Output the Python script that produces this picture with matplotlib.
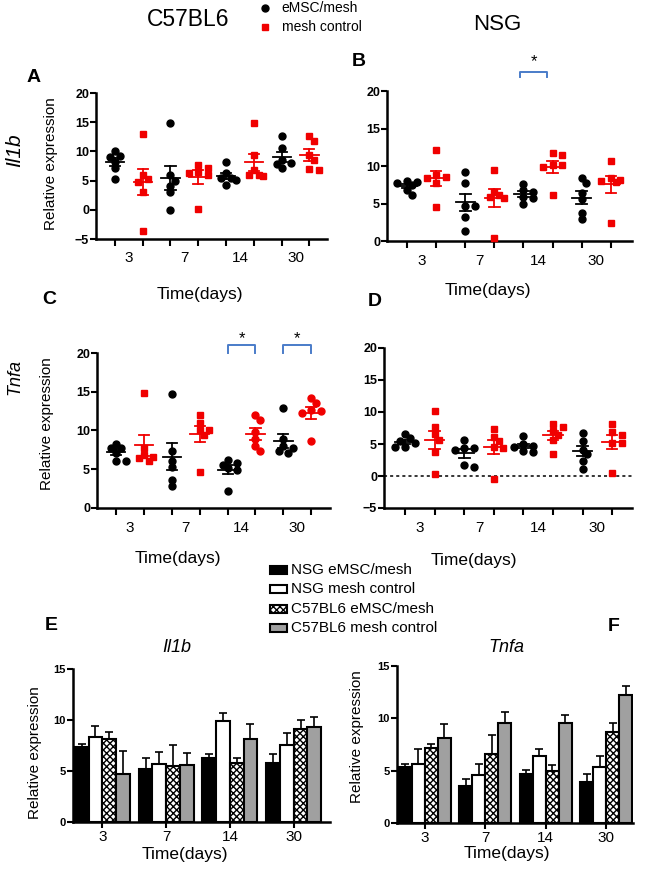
import numpy as np
import matplotlib.pyplot as plt
from matplotlib.patches import Rectangle
from matplotlib.lines import Line2D

plt.rcParams['font.family'] = ['Liberation Sans', 'DejaVu Sans']

W, H = 660, 871
RED = '#f00000'
GRAY = '#a0a0a0'

days = ['3', '7', '14', '30']

# values per day (3, 7, 14, 30), six animals each
c57_il1b_emsc = [[10.1, 9.2, 9.1, 8.2, 7.1, 5.2], [14.9, 6.0, 5.0, 4.1, 3.0, 0.0],
                 [8.1, 6.3, 5.5, 5.4, 5.1, 4.2], [12.7, 10.5, 8.5, 8.0, 7.8, 7.1]]
c57_il1b_mesh = [[13.0, 6.0, 5.2, 4.8, 3.1, -3.6], [7.7, 7.1, 6.5, 6.3, 5.9, 0.1],
                 [14.9, 9.4, 6.8, 6.0, 5.9, 5.8], [11.8, 12.6, 9.3, 8.6, 6.8, 7.0]]
nsg_il1b_emsc = [[8.0, 7.9, 7.7, 7.5, 6.8, 6.2], [9.2, 7.7, 4.7, 4.7, 3.2, 1.4],
                 [7.6, 6.8, 6.6, 5.9, 5.7, 5.0], [7.8, 8.4, 6.4, 5.6, 3.7, 2.9]]
nsg_il1b_mesh = [[12.2, 8.8, 8.6, 8.4, 7.7, 4.5], [9.5, 6.6, 6.1, 5.9, 5.7, 0.4],
                 [11.5, 11.7, 10.1, 9.9, 10.1, 6.1], [10.7, 8.4, 8.0, 7.9, 8.1, 2.4]]
c57_tnfa_emsc = [[8.3, 7.7, 7.8, 7.1, 6.1, 6.1], [14.7, 7.3, 6.1, 5.3, 3.6, 2.8],
                 [6.2, 5.8, 5.6, 5.1, 4.9, 2.2], [12.9, 8.9, 8.0, 7.7, 7.4, 7.1]]
c57_tnfa_mesh = [[14.9, 7.7, 6.9, 6.6, 6.4, 6.1], [12.0, 11.0, 10.1, 10.1, 9.4, 4.6],
                 [12.0, 11.3, 9.8, 8.9, 8.0, 7.4], [14.2, 13.5, 12.5, 12.2, 12.6, 8.6]]
nsg_tnfa_emsc = [[6.5, 5.9, 5.5, 5.1, 4.6, 4.6], [5.7, 4.3, 4.3, 4.0, 1.4, 1.7],
                 [6.3, 5.0, 4.7, 4.5, 3.9, 3.8], [6.7, 5.5, 4.1, 3.5, 2.4, 1.1]]
nsg_tnfa_mesh = [[10.2, 7.7, 6.5, 5.6, 3.8, 0.3], [7.3, 6.1, 5.4, 4.6, 4.3, -0.4],
                 [8.1, 7.7, 7.1, 6.4, 5.6, 3.4], [8.2, 6.8, 6.4, 5.1, 5.1, 0.4]]

bar_labels = ['NSG eMSC/mesh', 'NSG mesh control', 'C57BL6 eMSC/mesh', 'C57BL6 mesh control']


def box(l, r, t, b):
    return [l / W, 1 - b / H, (r - l) / W, (b - t) / H]


def ftxt(x, y, s, **kw):
    fig.text(x / W, 1 - y / H, s, ha='center', va='center', **kw)


def mean_sem(v):
    v = np.asarray(v)
    return v.mean(), v.std(ddof=1) / np.sqrt(len(v))


def swarm(ax, x0, vals, diam=6.0, step=4.8):
    # spread points sideways so they overlap less (in pixels)
    pxx = ax.transData.transform((1, 0))[0] - ax.transData.transform((0, 0))[0]
    ys = ax.transData.transform(np.column_stack([np.zeros(len(vals)), vals]))[:, 1]
    order = np.argsort(-np.asarray(vals))
    placed = []
    offs = np.zeros(len(vals))
    for k in order:
        best, best_d = 0.0, -1.0
        for c in [0, 1, -1, 2, -2]:
            xo = c * step
            d = min([np.hypot(xo - px, ys[k] - py) for px, py in placed] or [99.0])
            if d >= diam:
                best = xo
                break
            if d > best_d:
                best, best_d = xo, d
        placed.append((best, ys[k]))
        offs[k] = best / pxx
    return x0 + offs


def style(ax, ylabsize=9):
    for s in ['top', 'right']:
        ax.spines[s].set_visible(False)
    for s in ['left', 'bottom']:
        ax.spines[s].set_linewidth(1.8)
    ax.tick_params(axis='y', width=1.5, length=4, labelsize=ylabsize, pad=1)
    for t in ax.get_yticklabels():
        t.set_fontweight('bold')


def dot_panel(ax, emsc, mesh, ylim, yticks, xlim, mesh_mk):
    ax.set_xlim(*xlim)
    ax.set_ylim(*ylim)
    ax.set_yticks(yticks)
    style(ax)
    ax.set_xticks(np.arange(8))
    ax.set_xticklabels([])
    ax.set_xticks(np.arange(4) * 2 + 0.5, days, minor=True)
    ax.tick_params(axis='x', which='major', width=1.5, length=5)
    ax.tick_params(axis='x', which='minor', length=0, labelsize=11, pad=9)
    for i in range(4):
        for j, (vals, col, mk) in enumerate([(emsc[i], 'black', 'o'), (mesh[i], RED, mesh_mk[i])]):
            x0 = 2 * i + j
            xs = swarm(ax, x0, vals)
            ax.plot(xs, vals, ls='none', marker=mk, ms=5, color=col, mec=col, clip_on=False, zorder=3)
            m, se = mean_sem(vals)
            ax.plot([x0 - 0.33, x0 + 0.33], [m, m], color=col, lw=1.3, zorder=4)
            ax.plot([x0, x0], [m - se, m + se], color=col, lw=1.3, zorder=4)
            for yy in (m - se, m + se):
                ax.plot([x0 - 0.18, x0 + 0.18], [yy, yy], color=col, lw=1.3, zorder=4)


def bracket(ax, x1, x2, ylo, yhi, ystar):
    ax.plot([x1, x1, x2, x2], [ylo, yhi, yhi, ylo], color='#4a7cc9', lw=1.4, clip_on=False)
    ax.text((x1 + x2) / 2, ystar, '*', ha='center', va='center', fontsize=12, clip_on=False)


def bar_panel(ax, groups, xlim):
    w = 0.215
    styles = [dict(color='black'), dict(color='white'),
              dict(color='white', hatch='xxxxx'), dict(color=GRAY)]
    ax.set_xlim(*xlim)
    ax.set_ylim(0, 15)
    ax.set_yticks([0, 5, 10, 15])
    style(ax, ylabsize=8)
    for k, (data, st) in enumerate(zip(groups, styles)):
        ms = [mean_sem(v) for v in data]
        x = np.arange(4) + (k - 1.5) * w
        ax.bar(x, [m for m, s in ms], w, edgecolor='black', linewidth=1.5, zorder=2, **st)
        ax.errorbar(x, [m for m, s in ms], yerr=[[0] * 4, [s for m, s in ms]], fmt='none',
                    ecolor='black', elinewidth=1.2, capsize=3, capthick=1.2, zorder=1)
    ax.set_xticks(np.arange(4), days)
    ax.tick_params(axis='x', width=1.5, length=4, labelsize=11, pad=2)


fig = plt.figure(figsize=(W / 100, H / 100), dpi=100)

axA = fig.add_axes(box(96, 327, 93, 239))
axB = fig.add_axes(box(387, 632, 91, 241))
axC = fig.add_axes(box(97, 330, 353, 508))
axD = fig.add_axes(box(384, 632, 348, 508))
axE = fig.add_axes(box(73, 330, 669, 822))
axF = fig.add_axes(box(397, 633, 666, 823))

sq = ['s'] * 4
dot_panel(axA, c57_il1b_emsc, c57_il1b_mesh, (-5, 20), [-5, 0, 5, 10, 15, 20], (-0.68, 7.63), sq)
dot_panel(axB, nsg_il1b_emsc, nsg_il1b_mesh, (0, 20), [0, 5, 10, 15, 20], (-0.69, 7.73), sq)
dot_panel(axC, c57_tnfa_emsc, c57_tnfa_mesh, (0, 20), [0, 5, 10, 15, 20], (-0.68, 7.67), ['s', 's', 'o', 'o'])
dot_panel(axD, nsg_tnfa_emsc, nsg_tnfa_mesh, (-5, 20), [-5, 0, 5, 10, 15, 20], (-0.71, 7.67), sq)
axD.axhline(0, color='black', lw=1.1, ls=(0, (2, 2)), zorder=1)

bracket(axB, 3.88, 4.82, 21.9, 22.5, 23.9)
bracket(axC, 4.0, 5.0, 20.0, 21.0, 21.9)
bracket(axC, 6.0, 7.0, 20.0, 21.0, 21.9)

bar_panel(axE, [nsg_il1b_emsc, nsg_il1b_mesh, c57_il1b_emsc, c57_il1b_mesh], (-0.46, 3.57))
bar_panel(axF, [nsg_tnfa_emsc, nsg_tnfa_mesh, c57_tnfa_emsc, c57_tnfa_mesh], (-0.46, 3.44))

# titles and labels
ftxt(188, 20, 'C57BL6', fontsize=16.5)
ftxt(497, 24, 'NSG', fontsize=16)
for x, y, s in [(34, 77, 'A'), (359, 62, 'B'), (49, 300, 'C'), (375, 302, 'D'), (51, 625, 'E'), (614, 626, 'F')]:
    ftxt(x, y, s, fontsize=14, fontweight='bold')

ftxt(15, 150, 'Il1b', fontsize=15, style='italic', rotation=90)
ftxt(15, 377, 'Tnfa', fontsize=13, style='italic', rotation=90)
for x, y in [(51, 164), (47, 424), (35, 753), (357, 737)]:
    ftxt(x, y, 'Relative expression', fontsize=11, rotation=90)
for x, y in [(200, 295), (488, 290), (178, 559), (474, 560), (185, 854), (507, 853)]:
    ftxt(x, y, 'Time(days)', fontsize=12.5)
ftxt(177, 648, 'Il1b', fontsize=13, style='italic')
ftxt(506, 648, 'Tnfa', fontsize=13, style='italic')

# top legend
fig.add_artist(Line2D([265 / W], [1 - 8 / H], marker='o', ms=5, color='black', ls='none'))
fig.add_artist(Line2D([265 / W], [1 - 27 / H], marker='s', ms=5, color=RED, ls='none'))
fig.text(281 / W, 1 - 8 / H, 'eMSC/mesh', fontsize=10, va='center')
fig.text(282 / W, 1 - 27 / H, 'mesh control', fontsize=10, va='center')

# bar legend
leg_styles = [dict(facecolor='black'), dict(facecolor='white'),
              dict(facecolor='white', hatch='xxxxx'), dict(facecolor=GRAY)]
for k, (lab, st) in enumerate(zip(bar_labels, leg_styles)):
    yc = 570 + k * 19.3
    fig.add_artist(Rectangle((270 / W, 1 - (yc + 4) / H), 17 / W, 8 / H, transform=fig.transFigure,
                             edgecolor='black', linewidth=1.5, **st))
    fig.text(291 / W, 1 - yc / H, lab, fontsize=11, va='center')

fig.savefig('out.png', dpi=100)
